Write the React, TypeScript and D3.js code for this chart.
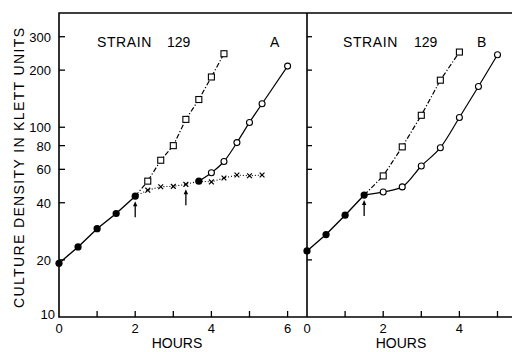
import React from "react";
import * as d3 from "d3";

// Panel A data (hours, Klett units)
const aFilled: [number, number][] = [[0, 19.2], [0.5, 23.4], [1.0, 29.2], [1.5, 35.1], [2.0, 43.3]];
const aSquares: [number, number][] = [[2.0, 43.3], [2.33, 52], [2.67, 67], [3.0, 80], [3.33, 110], [3.67, 140], [4.0, 184], [4.33, 244]];
const aCrosses: [number, number][] = [[2.0, 43.3], [2.33, 46.6], [2.67, 48.6], [3.0, 48.8], [3.33, 50], [3.67, 52], [4.0, 51.5], [4.33, 54], [4.67, 56], [5.0, 55.5], [5.33, 56]];
const aResume: [number, number][] = [[3.67, 52]];
const aCircles: [number, number][] = [[3.67, 52], [4.0, 57.6], [4.33, 66], [4.67, 83], [5.0, 106], [5.33, 133], [6.0, 210]];
const aArrows: [number, number][] = [[2.0, 43.3], [3.33, 50]];

// Panel B data
const bFilled: [number, number][] = [[0, 22.3], [0.5, 27.2], [1.0, 34.4], [1.5, 43.9]];
const bSquares: [number, number][] = [[1.5, 43.9], [2.0, 55.4], [2.5, 78.8], [3.0, 115.6], [3.5, 177], [4.0, 249]];
const bCircles: [number, number][] = [[1.5, 43.9], [2.0, 45.6], [2.5, 48.5], [3.0, 62.5], [3.5, 78], [4.0, 112.5], [4.5, 164], [5.0, 241]];
const bArrows: [number, number][] = [[1.5, 43.9]];

const yTickValues = [20, 40, 60, 80, 100, 200, 300];
const yTickLabels = [10, 20, 40, 60, 80, 100, 200, 300];
const xTicksA = [1, 2, 3, 4, 5, 6];
const xLabelsA = [0, 2, 4, 6];
const xTicksB = [1, 2, 3, 4, 5];
const xLabelsB = [0, 2, 4];

const FONT = "'Liberation Sans', Arial, sans-serif";

export default function App() {
  const W = 512, H = 352;
  const left = 59, mid = 307, right = 512, top = 13, bottom = 317;
  const pxPerHour = 38.1;
  const xA = d3.scaleLinear().domain([0, (mid - left) / pxPerHour]).range([left, mid]);
  const xB = d3.scaleLinear().domain([0, (right - mid) / pxPerHour]).range([mid, right]);
  const y = d3.scaleLog().domain([10, 400]).range([bottom, top]);

  const lineOf = (x: d3.ScaleLinear<number, number>, curve: d3.CurveFactory) =>
    d3.line<[number, number]>().x(d => x(d[0])).y(d => y(d[1])).curve(curve);

  const filledDots = (data: [number, number][], x: any, key: string) =>
    data.map((d, i) => <circle key={key + i} cx={x(d[0])} cy={y(d[1])} r={3.6} fill="#000" />);
  const openDots = (data: [number, number][], x: any, key: string, skipFirst = true) =>
    data.slice(skipFirst ? 1 : 0).map((d, i) => (
      <circle key={key + i} cx={x(d[0])} cy={y(d[1])} r={3} fill="#fff" stroke="#000" strokeWidth={1.1} />
    ));
  const squares = (data: [number, number][], x: any, key: string) =>
    data.slice(1).map((d, i) => (
      <rect key={key + i} x={x(d[0]) - 3} y={y(d[1]) - 3} width={6} height={6} fill="#fff" stroke="#000" strokeWidth={1.1} />
    ));
  const crosses = (data: [number, number][], x: any, key: string, skip: number[]) =>
    data.map((d, i) => {
      if (i === 0 || skip.includes(d[0])) return null;
      const cx = x(d[0]), cy = y(d[1]), s = 2.4;
      return (
        <path key={key + i} d={`M${cx - s},${cy - s}L${cx + s},${cy + s}M${cx - s},${cy + s}L${cx + s},${cy - s}`} stroke="#000" strokeWidth={1.2} />
      );
    });
  const arrows = (data: [number, number][], x: any, key: string) =>
    data.map((d, i) => {
      const cx = x(d[0]);
      const y0 = y(d[1]) + 5;
      const y1 = y0 + 16;
      return (
        <g key={key + i}>
          <line x1={cx} x2={cx} y1={y0 + 3} y2={y1} stroke="#000" strokeWidth={1.3} />
          <path d={`M${cx},${y0}L${cx - 2.2},${y0 + 5}L${cx + 2.2},${y0 + 5}Z`} fill="#000" />
        </g>
      );
    });

  return (
    <svg width={W} height={H} style={{ position: "absolute", left: 0, top: 0, background: "#fff" }} fontFamily={FONT}>
      <rect x={0} y={0} width={W} height={H} fill="#fff" />
      {/* frame */}
      <path d={`M${right},${top}H${left}V${bottom}H${right}`} fill="none" stroke="#000" strokeWidth={1.6} />
      <line x1={mid} x2={mid} y1={top} y2={bottom} stroke="#000" strokeWidth={1.6} />

      {/* y ticks */}
      {yTickValues.map(v => (
        <g key={"yt" + v}>
          <line x1={left} x2={left + 6} y1={y(v)} y2={y(v)} stroke="#000" strokeWidth={1.3} />
          <line x1={mid} x2={mid + 5} y1={y(v)} y2={y(v)} stroke="#000" strokeWidth={1.3} />
        </g>
      ))}
      {yTickLabels.map(v => (
        <text key={"yl" + v} x={v === 10 ? 55 : 51} y={v === 10 ? y(v) + 2 : y(v) + 5} fontSize={13} textAnchor="end">{v}</text>
      ))}

      {/* x ticks */}
      {xTicksA.map(v => (
        <line key={"xa" + v} x1={xA(v)} x2={xA(v)} y1={bottom} y2={bottom - 6} stroke="#000" strokeWidth={1.3} />
      ))}
      {xTicksB.map(v => (
        <line key={"xb" + v} x1={xB(v)} x2={xB(v)} y1={bottom} y2={bottom - 6} stroke="#000" strokeWidth={1.3} />
      ))}
      {xLabelsA.map(v => (
        <text key={"xla" + v} x={xA(v)} y={333} fontSize={13} textAnchor="middle">{v}</text>
      ))}
      {xLabelsB.map(v => (
        <text key={"xlb" + v} x={xB(v)} y={333} fontSize={13} textAnchor="middle">{v}</text>
      ))}
      <text x={177} y={348} fontSize={14} textAnchor="middle">HOURS</text>
      <text x={401} y={348} fontSize={14} textAnchor="middle">HOURS</text>

      <text transform="translate(24,168) rotate(-90)" fontSize={14} textAnchor="middle" textLength={280} lengthAdjust="spacing">CULTURE DENSITY IN KLETT UNITS</text>

      {/* titles */}
      <text x={97} y={47} fontSize={14} letterSpacing={0.6}>STRAIN</text>
      <text x={167} y={47} fontSize={14}>129</text>
      <text x={270} y={47} fontSize={14}>A</text>
      <text x={343} y={47} fontSize={14} letterSpacing={0.6}>STRAIN</text>
      <text x={414} y={47} fontSize={14}>129</text>
      <text x={477} y={47} fontSize={14}>B</text>

      {/* Panel A lines */}
      <path d={lineOf(xA, d3.curveLinear)(aFilled) || ""} fill="none" stroke="#000" strokeWidth={1.4} />
      <path d={lineOf(xA, d3.curveLinear)(aSquares) || ""} fill="none" stroke="#000" strokeWidth={1.2} strokeDasharray="5,2,1.2,2" />
      <path d={lineOf(xA, d3.curveLinear)(aCrosses) || ""} fill="none" stroke="#000" strokeWidth={1.1} strokeDasharray="1,2" />
      <path d={lineOf(xA, d3.curveMonotoneX)(aCircles) || ""} fill="none" stroke="#000" strokeWidth={1.2} />

      {/* Panel B lines */}
      <path d={lineOf(xB, d3.curveLinear)(bFilled) || ""} fill="none" stroke="#000" strokeWidth={1.4} />
      <path d={lineOf(xB, d3.curveLinear)(bSquares) || ""} fill="none" stroke="#000" strokeWidth={1.2} strokeDasharray="5,2,1.2,2" />
      <path d={lineOf(xB, d3.curveMonotoneX)(bCircles) || ""} fill="none" stroke="#000" strokeWidth={1.2} />

      {/* markers */}
      {squares(aSquares, xA, "as")}
      {crosses(aCrosses, xA, "ac", [3.67])}
      {openDots(aCircles, xA, "ao")}
      {filledDots(aFilled, xA, "af")}
      {filledDots(aResume, xA, "ar")}
      {squares(bSquares, xB, "bs")}
      {openDots(bCircles, xB, "bo")}
      {filledDots(bFilled, xB, "bf")}

      {arrows(aArrows, xA, "aa")}
      {arrows(bArrows, xB, "ba")}
    </svg>
  );
}
